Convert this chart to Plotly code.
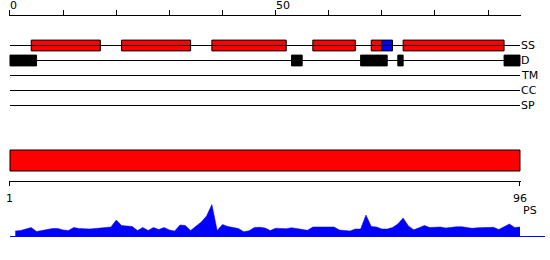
import plotly.graph_objects as go

# ---------------- data ----------------
seq_len = 96
top_tick_labels = [0, 50]
rows = ["SS", "D", "TM", "CC", "SP"]

ss_start = [4, 21, 38, 57, 68, 70, 74]
ss_end = [17, 34, 52, 65, 70, 72, 93]
ss_type = ["H", "H", "H", "H", "H", "E", "H"]

dis_start = [0, 53, 66, 73, 93]
dis_end = [5, 55, 71, 74, 96]

bottom_labels = [1, 96]

residues = list(range(1, 97))
profile = [5, 5.5, 7, 8.5, 4.5, 5.5, 7, 7.5, 7.5, 6,
           5.5, 8.5, 7.5, 7, 7, 7.5, 8, 8, 9, 16,
           10.5, 10, 9.5, 5.5, 8.5, 5.5, 8.5, 6.5, 8.5, 6,
           5, 11, 10.5, 5.5, 10, 14, 20, 31.5, 5.5, 11.5,
           9.5, 8.5, 7.5, 4.3, 5.2, 8.5, 8.7, 8, 5.5, 7.8,
           7.5, 7.3, 8.3, 7.5, 6.5, 5.7, 9, 9, 9, 9,
           9, 6, 5.7, 5, 7, 7, 21, 9.5, 9, 7,
           7, 8.5, 12, 18, 10, 6.2, 8.2, 10.5, 8.5, 8.5,
           9, 8, 8.8, 9.2, 9.3, 8.7, 7.7, 8.2, 8.6, 8.8,
           8.7, 6.5, 9, 12, 8.5, 9]

# ---------------- layout helpers ----------------
W, H = 550, 260
FONT = "DejaVu Sans"
FS = 11


def py(p):
    return 1 - p / H


def xdom(px0, px1, v0, v1, pad):
    s = (px1 - px0) / (v1 - v0)
    return [(px0 - pad * s) / W, (px1 + pad * s) / W], [v0 - pad, v1 + pad]


x1_dom, x1_rng = xdom(10, 520, 0, seq_len, 0.2)
x2_dom, x2_rng = xdom(10, 520, bottom_labels[0], bottom_labels[1], 0.2)
scale3 = 510 / seq_len
x3_dom = [10 / W, 545 / W]
x3_rng = [0, (545 - 10) / scale3]

fig = go.Figure()

# row lines
for k, r in enumerate(rows):
    fig.add_trace(go.Scatter(x=[0, seq_len], y=[k, k], mode="lines",
                             line=dict(color="black", width=1),
                             xaxis="x", yaxis="y", hoverinfo="skip"))

# secondary structure boxes
colors = ["#ff0000" if t == "H" else "#0000ff" for t in ss_type]
fig.add_trace(go.Bar(orientation="h", base=ss_start,
                     x=[e - s for s, e in zip(ss_start, ss_end)],
                     y=[rows.index("SS")] * len(ss_start), width=0.72,
                     marker=dict(color=colors, line=dict(color="black", width=1)),
                     xaxis="x", yaxis="y", hoverinfo="skip"))
# disorder boxes
fig.add_trace(go.Bar(orientation="h", base=dis_start,
                     x=[e - s for s, e in zip(dis_start, dis_end)],
                     y=[rows.index("D")] * len(dis_start), width=0.72,
                     marker=dict(color="black", line=dict(color="black", width=1)),
                     xaxis="x", yaxis="y", hoverinfo="skip"))

# full length red bar
fig.add_trace(go.Bar(orientation="h", base=[bottom_labels[0]],
                     x=[bottom_labels[1] - bottom_labels[0]], y=[0], width=1,
                     marker=dict(color="#ff0000", line=dict(color="black", width=1)),
                     xaxis="x2", yaxis="y2", hoverinfo="skip"))

# profile
fig.add_trace(go.Scatter(x=residues, y=profile, mode="lines", fill="tozeroy",
                         fillcolor="#0000ff", line=dict(color="#0000ff", width=0.5),
                         xaxis="x3", yaxis="y3", hoverinfo="skip"))

ann = []
for t in top_tick_labels:
    ann.append(dict(x=t, xref="x", y=py(5.5), yref="paper", text=str(t),
                    xanchor="left", yanchor="middle", xshift=-1.5, showarrow=False,
                    font=dict(family=FONT, size=FS, color="black")))
for k, r in enumerate(rows):
    ann.append(dict(x=seq_len, xref="x", y=k, yref="y", text=r,
                    xanchor="left", yanchor="middle", xshift=-1, showarrow=False,
                    font=dict(family=FONT, size=FS, color="black")))
for t in bottom_labels:
    ann.append(dict(x=t, xref="x2", y=py(198), yref="paper", text=str(t),
                    xanchor="center", yanchor="middle", showarrow=False,
                    font=dict(family=FONT, size=FS, color="black")))
ann.append(dict(x=bottom_labels[1], xref="x2", y=py(210.5), yref="paper", text="PS",
                xanchor="left", yanchor="middle", xshift=1, showarrow=False,
                font=dict(family=FONT, size=FS, color="black")))

fig.update_layout(
    width=W, height=H, margin=dict(l=0, r=0, t=0, b=0),
    paper_bgcolor="white", plot_bgcolor="white",
    showlegend=False, barmode="overlay", hovermode=False,
    annotations=ann,
    xaxis=dict(domain=x1_dom, range=x1_rng, side="top", anchor="free",
               position=py(15), showline=True, linecolor="black", linewidth=1,
               ticks="outside", ticklen=5, tickcolor="black", tickwidth=1,
               tick0=0, dtick=10, showticklabels=False, showgrid=False, zeroline=False),
    yaxis=dict(domain=[py(120.5), py(30.5)], range=[5, -1], visible=False),
    xaxis2=dict(domain=x2_dom, range=x2_rng, anchor="free", position=py(180.5),
                showline=True, linecolor="black", linewidth=1,
                ticks="outside", ticklen=4, tickcolor="black", tickwidth=1,
                tickvals=bottom_labels, showticklabels=False, showgrid=False, zeroline=False),
    yaxis2=dict(domain=[py(172.05), py(148.95)], range=[-0.55, 0.55], visible=False),
    xaxis3=dict(domain=x3_dom, range=x3_rng, anchor="y3", showline=True,
                linecolor="#0000ff", linewidth=1, ticks="", showticklabels=False,
                showgrid=False, zeroline=False),
    yaxis3=dict(domain=[py(236), py(196)], range=[0, 40], visible=False),
)

fig.write_html("out.html", config={"displayModeBar": False})
